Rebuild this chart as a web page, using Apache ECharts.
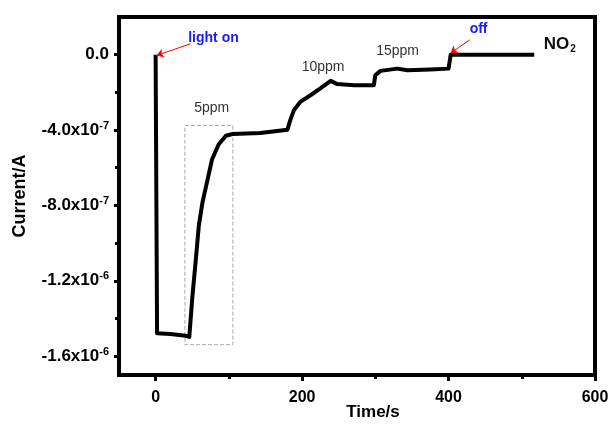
<!DOCTYPE html>
<html>
<head>
<meta charset="utf-8">
<script src="https://cdn.jsdelivr.net/npm/echarts@6/dist/echarts.min.js"></script>
<style>
  html, body { margin: 0; padding: 0; background: #fff; }
  #chart { width: 613px; height: 424px; }
</style>
</head>
<body>
<div id="chart"></div>
<script>
// trace: time in s, current in A
const timeS = [0, 2, 20, 41, 46, 50, 55, 59, 64, 71, 77, 86, 96, 105, 143, 180, 184, 189, 198, 212, 225, 239, 248, 271, 298, 300, 307, 330, 344, 375, 400, 403, 517];
const currentA = [0, -14.78e-7, -14.83e-7, -14.92e-7, -14.98e-7, -12.93e-7, -10.83e-7, -9.07e-7, -7.84e-7, -6.62e-7, -5.56e-7, -4.77e-7, -4.3e-7, -4.21e-7, -4.16e-7, -3.98e-7, -3.46e-7, -2.93e-7, -2.49e-7, -2.14e-7, -1.79e-7, -1.39e-7, -1.56e-7, -1.62e-7, -1.62e-7, -1.09e-7, -0.86e-7, -0.74e-7, -0.83e-7, -0.79e-7, -0.74e-7, 0, 0];

const xMajorTicks = [0, 200, 400, 600];
const xMinorTicks = [100, 300, 500];
const yMajorTicks = [-1.6e-6, -1.2e-6, -8e-7, -4e-7, 0];
const yMinorTicks = [-1.4e-6, -1.0e-6, -6e-7, -2e-7];

// annotations: [time, current, text]
const notes = [
  [79, 0.88e-7, 'light on'],
  [76.5, -2.85e-7, '5ppm'],
  [228.7, -0.68e-7, '10ppm'],
  [330.4, 0.2e-7, '15ppm'],
  [441, 1.33e-7, 'off']
];
const arrows = [
  [[47.8, 0.58e-7], [1.4, -0.04e-7]],
  [[429.2, 0.79e-7], [402.7, 0.08e-7]]
];
const box5ppm = [[40, -3.76e-7], [105.5, -15.39e-7]];
const gasLabel = [530, 0.54e-7];

const chart = echarts.init(document.getElementById('chart'), null, { renderer: 'canvas' });

function yLabel(v) {
  if (Math.abs(v) < 1e-12) return '{b|0.0}';
  const parts = v.toExponential(1).split('e');
  return '{b|' + parts[0] + 'x10}{sup|' + parseInt(parts[1], 10) + '}';
}

const font = 'Liberation Sans, Arial, sans-serif';

const option = {
  animation: false,
  backgroundColor: '#fff',
  grid: {
    left: 119, right: 18, top: 17, bottom: 49,
    outerBoundsMode: 'none',
    show: true, borderColor: '#000', borderWidth: 4
  },
  xAxis: [
    {
      type: 'value', min: -50, max: 600, position: 'bottom',
      name: 'Time/s', nameLocation: 'middle', nameGap: 29, nameMoveOverlap: false,
      nameTextStyle: { fontFamily: font, fontWeight: 'bold', fontSize: 17, color: '#000', padding: [0, 0, 0, 32] },
      axisLine: { onZero: false, lineStyle: { color: '#000', width: 4 } },
      axisTick: { customValues: xMajorTicks, length: 6, lineStyle: { color: '#000', width: 3 } },
      axisLabel: { customValues: xMajorTicks, margin: 15, fontFamily: font, fontWeight: 'bold', fontSize: 16, color: '#000' },
      splitLine: { show: false }
    },
    {
      type: 'value', min: -50, max: 600, position: 'bottom',
      axisLine: { show: false, onZero: false },
      axisTick: { customValues: xMinorTicks, length: 4, lineStyle: { color: '#000', width: 3 } },
      axisLabel: { show: false },
      splitLine: { show: false }
    }
  ],
  yAxis: [
    {
      type: 'value', min: -1.7e-6, max: 2e-7, position: 'left',
      name: 'Current/A', nameLocation: 'middle', nameGap: 90, nameMoveOverlap: false,
      nameTextStyle: { fontFamily: font, fontWeight: 'bold', fontSize: 18, color: '#000' },
      axisLine: { onZero: false, lineStyle: { color: '#000', width: 4 } },
      axisTick: { customValues: yMajorTicks, length: 5, lineStyle: { color: '#000', width: 3 } },
      axisLabel: {
        customValues: yMajorTicks, margin: 10, formatter: yLabel,
        rich: {
          b: { fontFamily: font, fontWeight: 'bold', fontSize: 17, color: '#000', lineHeight: 20, verticalAlign: 'middle' },
          sup: { fontFamily: font, fontWeight: 'bold', fontSize: 11, color: '#000', lineHeight: 20, verticalAlign: 'top', padding: [0, 0, 6, 0] }
        }
      },
      splitLine: { show: false }
    },
    {
      type: 'value', min: -1.7e-6, max: 2e-7, position: 'left',
      axisLine: { show: false, onZero: false },
      axisTick: { customValues: yMinorTicks, length: 4, lineStyle: { color: '#000', width: 3 } },
      axisLabel: { show: false },
      splitLine: { show: false }
    }
  ],
  series: [
    {
      type: 'line',
      data: timeS.map((t, i) => [t, currentA[i]]),
      showSymbol: false,
      lineStyle: { color: '#000', width: 4, join: 'round' },
      silent: true,
      markArea: {
        silent: true,
        itemStyle: { color: 'rgba(0,0,0,0)', borderColor: '#aaa', borderWidth: 1, borderType: 'dashed' },
        data: [[{ coord: box5ppm[0] }, { coord: box5ppm[1] }]]
      },
      markLine: {
        silent: true,
        symbol: ['none', 'arrow'],
        symbolSize: 7,
        label: { show: false },
        lineStyle: { color: '#ff0000', width: 1, type: 'solid' },
        data: arrows.map(a => [{ coord: a[0] }, { coord: a[1] }])
      },
      markPoint: {
        silent: true,
        symbol: 'circle',
        symbolSize: 0,
        data: notes.map(n => {
          const blue = n[2] === 'light on' || n[2] === 'off';
          return {
            coord: [n[0], n[1]],
            label: {
              show: true, position: 'inside', formatter: n[2],
              fontFamily: font, fontSize: 14,
              fontWeight: blue ? 'bold' : 'normal',
              color: blue ? '#1a1aff' : '#333'
            }
          };
        }).concat([{
          coord: gasLabel,
          label: {
            show: true, position: 'inside', align: 'left', formatter: '{n|NO}{s|2}',
            rich: {
              n: { fontFamily: font, fontWeight: 'bold', fontSize: 17, color: '#111', lineHeight: 20 },
              s: { fontFamily: font, fontWeight: 'bold', fontSize: 10, color: '#111', lineHeight: 20, verticalAlign: 'bottom', padding: [6, 0, 0, 1] }
            }
          }
        }])
      }
    }
  ]
};

chart.setOption(option);
</script>
</body>
</html>
